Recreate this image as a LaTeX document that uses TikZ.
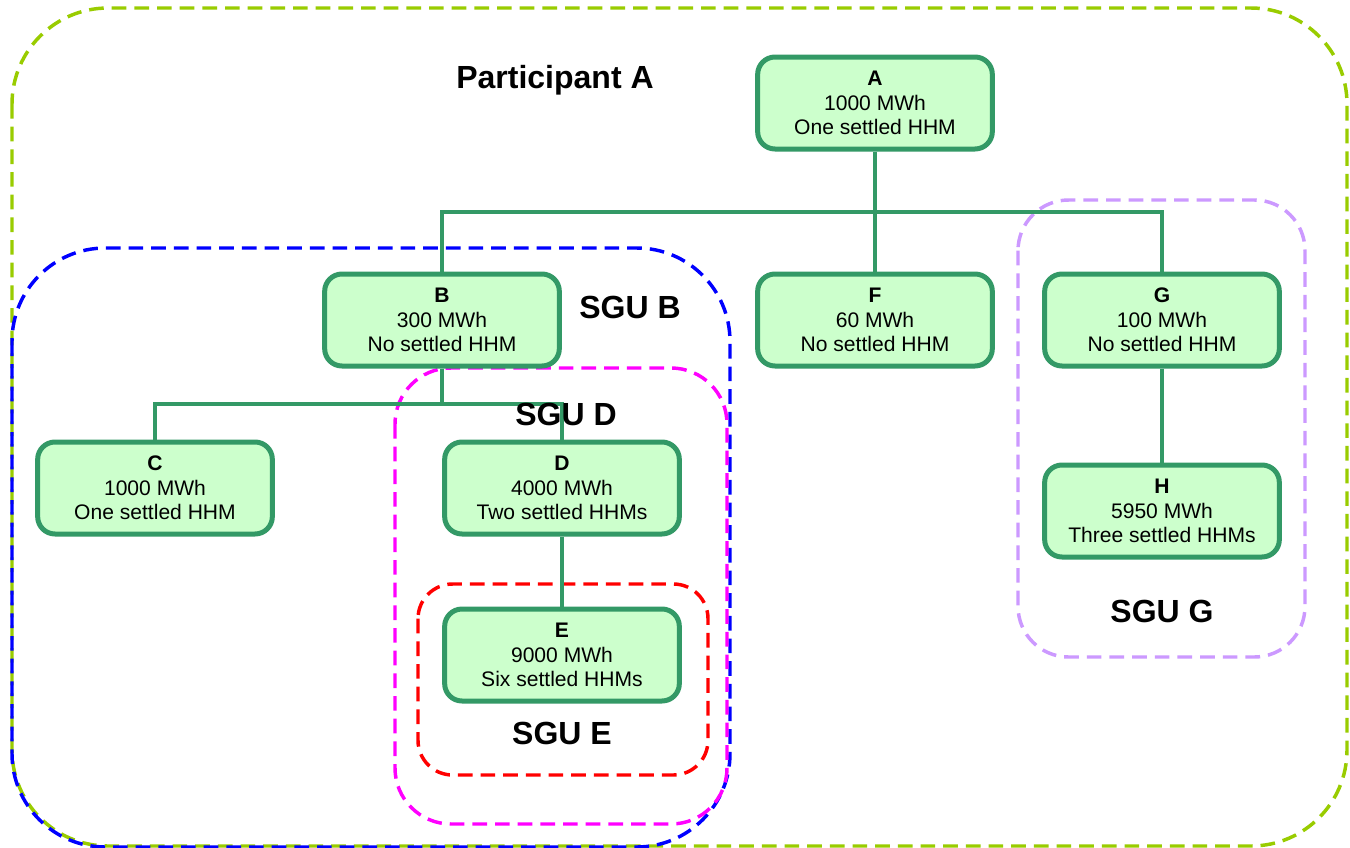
\documentclass[tikz,border=0pt]{standalone}
\usepackage{fontspec}
\setmainfont{Liberation Sans}
\definecolor{unitfill}{HTML}{CCFFCC}
\definecolor{unitline}{HTML}{339966}
\definecolor{partA}{HTML}{99CC00}
\definecolor{sguB}{HTML}{0000FF}
\definecolor{sguD}{HTML}{FF00FF}
\definecolor{sguE}{HTML}{FF0000}
\definecolor{sguG}{HTML}{CC99FF}
\begin{document}
\begin{tikzpicture}[x=0.75pt,y=-0.75pt,
  grp/.style={line width=2.6pt, dash pattern=on 11pt off 6pt},
  unit/.style={draw=unitline, fill=unitfill, line width=3.75pt, rounded corners=13pt,
    minimum width=176pt, minimum height=69pt, align=center, inner sep=0pt,
    font=\fontsize{15.8}{18.4}\selectfont},
  link/.style={draw=unitline, line width=3pt},
  lbl/.style={font=\bfseries\fontsize{24}{28}\selectfont, inner sep=0pt}]
\clip (0,0) rectangle (1350,847);
\fill[white] (0,0) rectangle (1350,847);

% group outlines
\draw[grp, partA, rounded corners=72pt] (12,8) rectangle (1347,846);
\draw[grp, sguB, rounded corners=70pt] (12,248) rectangle (730,847);
\draw[grp, sguD, rounded corners=42pt] (395,368) rectangle (727,824);
\draw[grp, sguE, rounded corners=26pt] (418,584) rectangle (708,775);
\draw[grp, sguG, rounded corners=38pt] (1018,200) rectangle (1305,657);

% units
\node[unit] (A) at (875,103) {\textbf{A}\\1000 MWh\\One settled HHM};
\node[unit] (B) at (442,320) {\textbf{B}\\300 MWh\\No settled HHM};
\node[unit] (F) at (875,320) {\textbf{F}\\60 MWh\\No settled HHM};
\node[unit] (G) at (1162,320) {\textbf{G}\\100 MWh\\No settled HHM};
\node[unit] (C) at (155,488) {\textbf{C}\\1000 MWh\\One settled HHM};
\node[unit] (D) at (562,488) {\textbf{D}\\4000 MWh\\Two settled HHMs};
\node[unit] (H) at (1162,511) {\textbf{H}\\5950 MWh\\Three settled HHMs};
\node[unit] (E) at (562,655) {\textbf{E}\\9000 MWh\\Six settled HHMs};

% hierarchy links
\coordinate (busA) at (875,212);
\coordinate (busB) at (442,404);
\draw[link] (A.south) -- (F.north);
\draw[link] (B.north) |- (busA) -| (G.north);
\draw[link] (B.south) -- (busB);
\draw[link] (C.north) |- (busB) -| (D.north);
\draw[link] (D.south) -- (E.north);
\draw[link] (G.south) -- (H.north);

% group names
\node[lbl] (tA) at (555,80) {Participant A};
\node[lbl] (tB) at (630,307) {SGU B};
\node[lbl] (tD) at (566,414) {SGU D};
\node[lbl] (tE) at (562,733) {SGU E};
\node[lbl] (tG) at (1162,611) {SGU G};
\end{tikzpicture}
\end{document}
